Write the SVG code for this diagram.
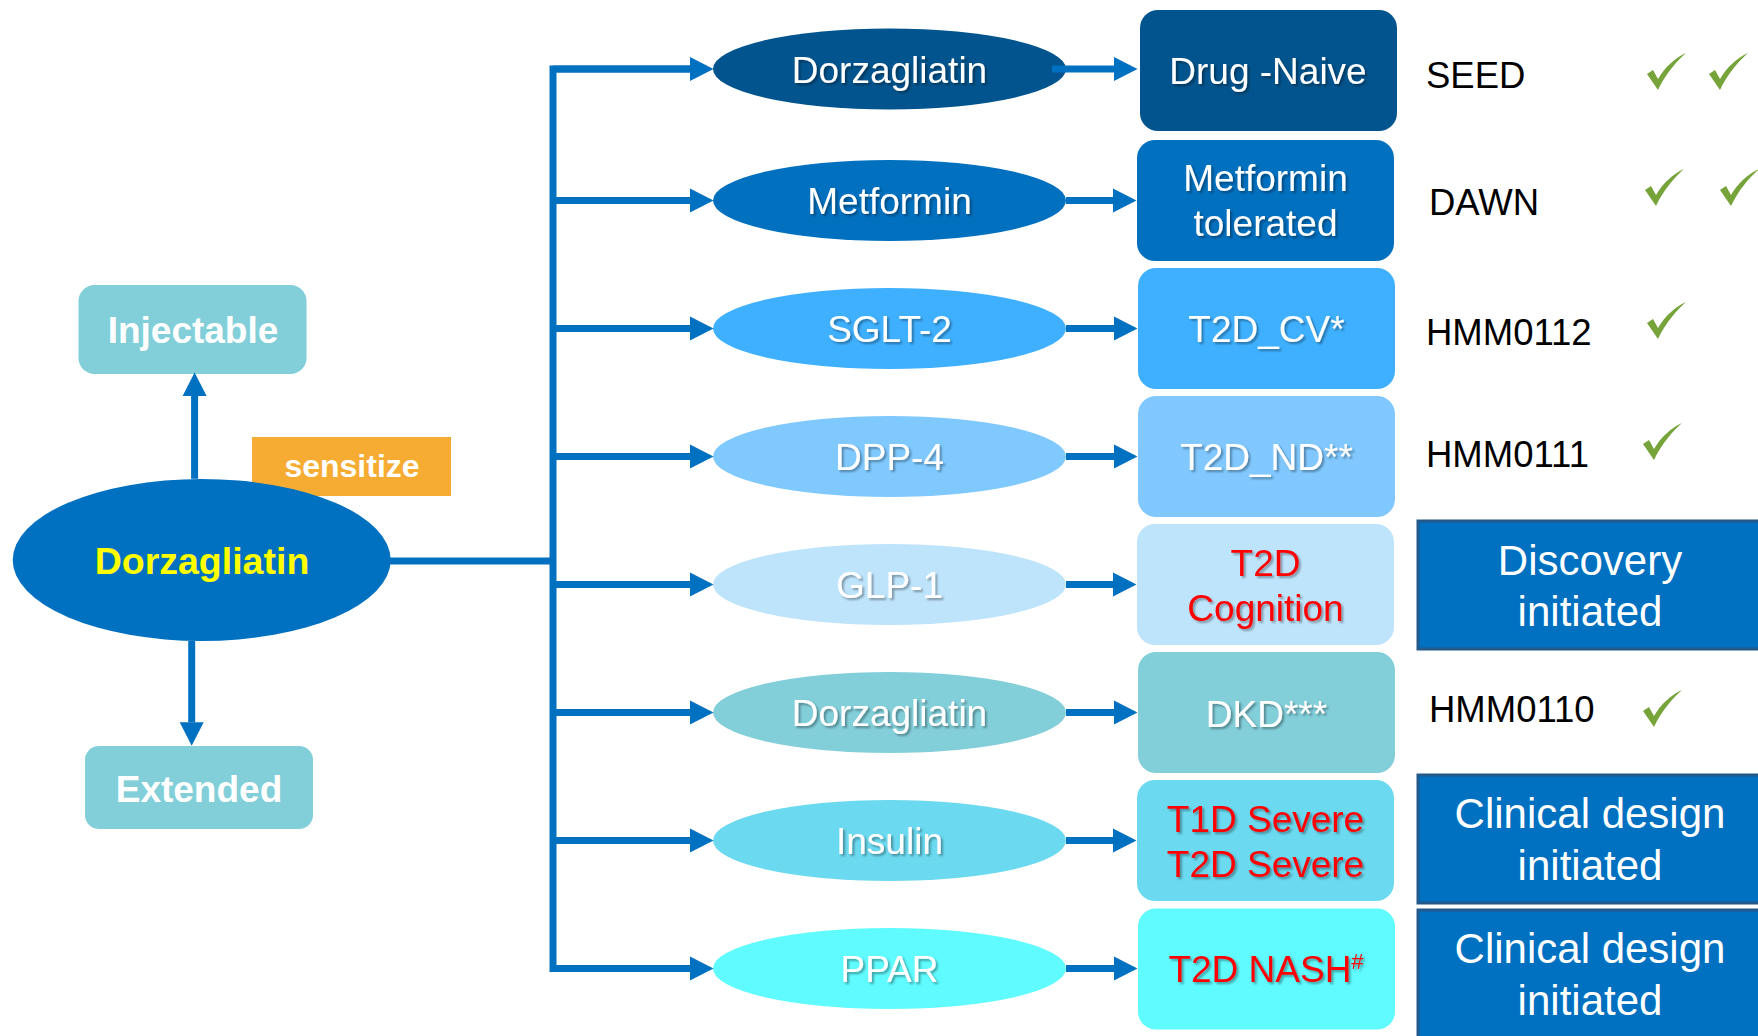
<svg xmlns="http://www.w3.org/2000/svg" xmlns:xlink="http://www.w3.org/1999/xlink" width="1758" height="1036" viewBox="0 0 1758 1036">
<style>
text{font-family:"Liberation Sans",Arial,sans-serif;}
.b{font-weight:bold;fill:#fff;}
.m{font-size:37px;fill:#fff;text-anchor:middle;filter:url(#sh);}
.red{fill:#FF0000;}
.lbl{font-size:36.5px;fill:#000;}
.st{font-size:42px;fill:#fff;text-anchor:middle;}
.conn{stroke:#0070C0;stroke-width:7;fill:none;}
.sbox{fill:#0070C0;stroke:#24598C;stroke-width:3;}
.chk{fill:#76A33A;}
</style>
<defs>
<filter id="sh" x="-10%" y="-20%" width="130%" height="150%">
<feDropShadow dx="2" dy="2" stdDeviation="1" flood-color="#000" flood-opacity="0.35"/>
</filter>
<marker id="ah" markerUnits="userSpaceOnUse" markerWidth="24" markerHeight="24" refX="0" refY="12" orient="auto" overflow="visible">
<path d="M0,0 L23.5,12 L0,24 Z" fill="#0070C0"/>
</marker>
<path id="chkp" d="M0,21 L6,17 L11,26 C18,14 28,5 39,0 C30,8 19,20 11,37 Z"/>
</defs>
<rect width="1758" height="1036" fill="#fff"/>

<g id="injectable">
<rect x="78.5" y="285" width="228" height="89" rx="16" fill="#82CFD9"/>
<text class="b" x="193" y="343" font-size="37" text-anchor="middle">Injectable</text>
</g>
<g id="sensitize">
<rect x="252" y="437" width="199" height="59" fill="#F6AC32"/>
<text class="b" x="352" y="477" font-size="32" text-anchor="middle">sensitize</text>
</g>
<g id="main">
<ellipse cx="201.7" cy="560" rx="189" ry="81" fill="#0070C0"/>
<text x="202" y="573.5" font-size="37.5" font-weight="bold" fill="#FFFF00" text-anchor="middle">Dorzagliatin</text>
</g>
<g id="extended">
<rect x="85" y="746" width="228" height="83" rx="14" fill="#82CFD9"/>
<text class="b" x="199" y="801.5" font-size="37" text-anchor="middle">Extended</text>
</g>

<g id="row1">
<ellipse cx="889.5" cy="69" rx="176.5" ry="40.5" fill="#01548D"/>
<text class="m" x="889.5" y="82.5">Dorzagliatin</text>
<rect x="1140" y="10" width="257" height="121" rx="18" fill="#01548D"/>
<text class="m" x="1268" y="84">Drug -Naive</text>
</g>
<g id="row2">
<ellipse cx="889.5" cy="200.5" rx="176.5" ry="40.5" fill="#0170BF"/>
<text class="m" x="889.5" y="214">Metformin</text>
<rect x="1137" y="140" width="257" height="121" rx="18" fill="#0170BF"/>
<text class="m" x="1265.5" y="191">Metformin</text>
<text class="m" x="1265.5" y="236">tolerated</text>
</g>
<g id="row3">
<ellipse cx="889.5" cy="328.5" rx="176.5" ry="40.5" fill="#3FB0FF"/>
<text class="m" x="889.5" y="342">SGLT-2</text>
<rect x="1138" y="268" width="257" height="121" rx="18" fill="#3FB0FF"/>
<text class="m" x="1266.5" y="342">T2D_CV*</text>
</g>
<g id="row4">
<ellipse cx="889.5" cy="456.5" rx="176.5" ry="40.5" fill="#80C9FF"/>
<text class="m" x="889.5" y="470">DPP-4</text>
<rect x="1138" y="396" width="257" height="121" rx="18" fill="#80C8FF"/>
<text class="m" x="1266.5" y="470">T2D_ND**</text>
</g>
<g id="row5">
<ellipse cx="889.5" cy="584.5" rx="176.5" ry="40.5" fill="#BEE4FC"/>
<text class="m" x="889.5" y="598">GLP-1</text>
<rect x="1137" y="524" width="257" height="121" rx="18" fill="#BEE4FC"/>
<text class="m red" x="1265.5" y="576">T2D</text>
<text class="m red" x="1265.5" y="621">Cognition</text>
</g>
<g id="row6">
<ellipse cx="889.5" cy="712.5" rx="176.5" ry="40.5" fill="#82CED9"/>
<text class="m" x="889.5" y="726">Dorzagliatin</text>
<rect x="1138" y="652" width="257" height="121" rx="18" fill="#82CED9"/>
<text class="m" x="1266.5" y="726.5">DKD***</text>
</g>
<g id="row7">
<ellipse cx="889.5" cy="840.5" rx="176.5" ry="40.5" fill="#6BD9EF"/>
<text class="m" x="889.5" y="854">Insulin</text>
<rect x="1137" y="780" width="257" height="121" rx="18" fill="#6BD9EF"/>
<text class="m red" x="1265.5" y="831.5">T1D Severe</text>
<text class="m red" x="1265.5" y="876.5">T2D Severe</text>
</g>
<g id="row8">
<ellipse cx="889.5" cy="968.5" rx="176.5" ry="40.5" fill="#5FFBFE"/>
<text class="m" x="889.5" y="982">PPAR</text>
<rect x="1138" y="908.5" width="257" height="121" rx="18" fill="#5FFBFE"/>
<text class="m red" x="1266" y="981.5">T2D NASH<tspan font-size="22" dy="-13">#</tspan></text>
</g>

<g id="trials">
<text class="lbl" x="1426" y="88">SEED</text>
<text class="lbl" x="1429" y="215">DAWN</text>
<text class="lbl" x="1426" y="345">HMM0112</text>
<text class="lbl" x="1426" y="467">HMM0111</text>
<text class="lbl" x="1429" y="722">HMM0110</text>
</g>
<g id="checks" class="chk">
<use xlink:href="#chkp" x="1647" y="53"/>
<use xlink:href="#chkp" x="1709" y="53"/>
<use xlink:href="#chkp" x="1645" y="169"/>
<use xlink:href="#chkp" x="1720" y="169"/>
<use xlink:href="#chkp" x="1647" y="302"/>
<use xlink:href="#chkp" x="1643" y="423"/>
<use xlink:href="#chkp" x="1643" y="690"/>
</g>
<g id="status-discovery">
<rect class="sbox" x="1418" y="521" width="360" height="128"/>
<text class="st" x="1590" y="575">Discovery</text>
<text class="st" x="1590" y="626">initiated</text>
</g>
<g id="status-clinical1">
<rect class="sbox" x="1418" y="775" width="360" height="128"/>
<text class="st" x="1590" y="828">Clinical design</text>
<text class="st" x="1590" y="879.5">initiated</text>
</g>
<g id="status-clinical2">
<rect class="sbox" x="1418" y="910" width="360" height="150"/>
<text class="st" x="1590" y="963">Clinical design</text>
<text class="st" x="1590" y="1014.5">initiated</text>
</g>

<g id="connectors">
<path class="conn" d="M194.6,478.8 V396" marker-end="url(#ah)"/>
<path class="conn" d="M191.7,641 V722.3" marker-end="url(#ah)"/>
<path class="conn" d="M390,561 H553"/>
<path class="conn" d="M690,69 H553 V968.5 H690"/>
<path class="conn" d="M553,69 H690" marker-end="url(#ah)"/>
<path class="conn" d="M553,200.5 H690" marker-end="url(#ah)"/>
<path class="conn" d="M553,328.5 H690" marker-end="url(#ah)"/>
<path class="conn" d="M553,456.5 H690" marker-end="url(#ah)"/>
<path class="conn" d="M553,584.5 H690" marker-end="url(#ah)"/>
<path class="conn" d="M553,712.5 H690" marker-end="url(#ah)"/>
<path class="conn" d="M553,840.5 H690" marker-end="url(#ah)"/>
<path class="conn" d="M553,968.5 H690" marker-end="url(#ah)"/>
<path class="conn" d="M1052,69 H1114" marker-end="url(#ah)"/>
<path class="conn" d="M1066,200.5 H1113" marker-end="url(#ah)"/>
<path class="conn" d="M1066,328.5 H1114" marker-end="url(#ah)"/>
<path class="conn" d="M1066,456.5 H1114" marker-end="url(#ah)"/>
<path class="conn" d="M1066,584.5 H1113" marker-end="url(#ah)"/>
<path class="conn" d="M1066,712.5 H1114" marker-end="url(#ah)"/>
<path class="conn" d="M1066,840.5 H1113" marker-end="url(#ah)"/>
<path class="conn" d="M1066,968.5 H1114" marker-end="url(#ah)"/>
</g>
</svg>
